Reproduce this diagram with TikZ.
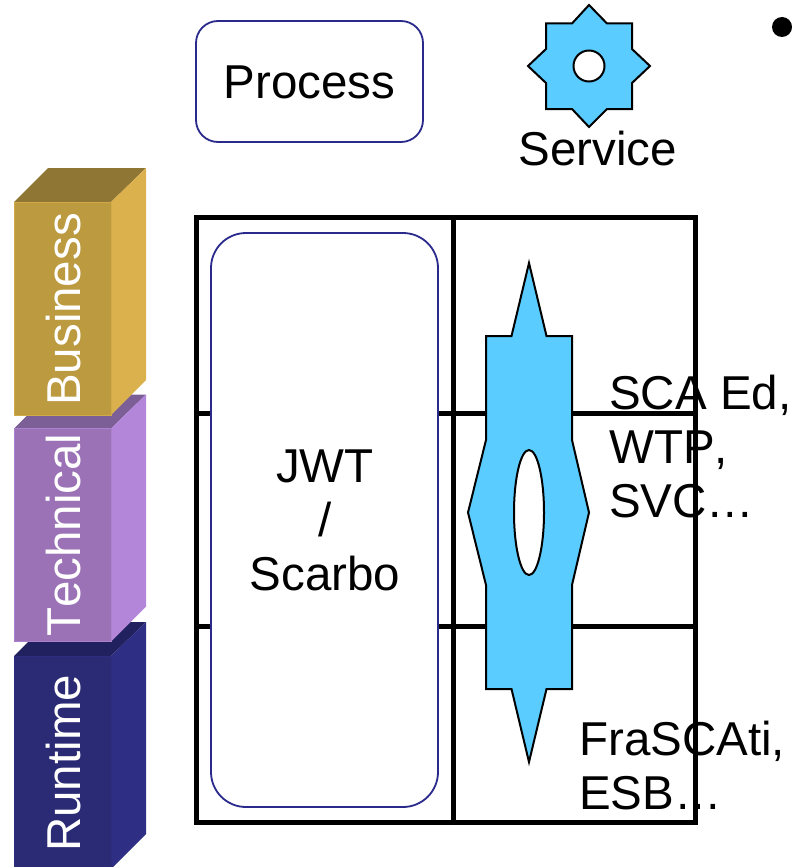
\documentclass[tikz,border=0pt]{standalone}
\usepackage{fontspec}
\setmainfont[Kerning=Off]{Liberation Sans}
\definecolor{sky}{HTML}{5ACCFF}
\definecolor{edgeblue}{HTML}{2A2A8C}
\definecolor{busF}{HTML}{BC9A40}\definecolor{busS}{HTML}{DAB14C}\definecolor{busT}{HTML}{8F7635}
\definecolor{tecF}{HTML}{9A72B5}\definecolor{tecS}{HTML}{B386DA}\definecolor{tecT}{HTML}{7C5F96}
\definecolor{runF}{HTML}{2A2A75}\definecolor{runS}{HTML}{2E2E85}\definecolor{runT}{HTML}{212160}
\tikzset{
  big/.style={font=\fontsize{47.5}{54.5}\selectfont, inner sep=0pt, text=black},
  bartext/.style={big, text=white, rotate=90, anchor=base west},
  gridline/.style={line width=5pt, black, line cap=rect},
  roundbox/.style={draw=edgeblue, fill=white, line width=1.8pt},
  skyshape/.style={draw=black, fill=sky, line width=2pt, line join=miter},
  hole/.style={draw=black, fill=white, line width=2pt},
}
\newcommand{\levelblock}[4]{% top y of front, front, side, top colours
  \fill[#4] (14,#1) -- (48,#1-34) -- (146,#1-34) -- (111,#1) -- cycle;
  \fill[#3] (111,#1) -- (146,#1-34) -- (146,#1+178) -- (111,#1+213) -- cycle;
  \fill[#2, draw=#3!70!#2, line width=1pt] (14,#1) rectangle (111,#1+213);
}
\begin{document}
\begin{tikzpicture}[x=1pt,y=-1pt]
\useasboundingbox (0,0) rectangle (792,867);
\clip (0,0) rectangle (792,867);
% level blocks
\levelblock{656}{runF}{runS}{runT}
\levelblock{428.5}{tecF}{tecS}{tecT}
\levelblock{202}{busF}{busS}{busT}
\node[bartext] (business) at (80,406) {Business};
\node[bartext] (technical) at (80,637) {Technical};
\node[bartext] (runtime) at (80,852) {Runtime};
% legend
\node[roundbox, draw, rounded corners=22pt, minimum width=227pt, minimum height=121pt, inner sep=0pt] (process) at (309.5,81.5) {};
\node[big, anchor=base] (processlabel) at (309.5,98) {Process};
\draw[skyshape] (589,5) -- (607,23.5) -- (632,23.5) -- (632,49) -- (650,66) -- (632,83) -- (632,109) -- (607,109) -- (589,127) -- (572,109) -- (546,109) -- (546,83) -- (528,66) -- (546,49) -- (546,23.5) -- (572,23.5) -- cycle;
\draw[hole] (589,66) circle (15.5);
\node[big, anchor=base west] (service) at (518.5,165) {Service};
\fill (782,27) circle (10);
% grid
\draw[gridline] (196,217) rectangle (695,822);
\draw[gridline] (453,217) -- (453,822);
\draw[gridline] (196,413) -- (695,413);
\draw[gridline] (196,626) -- (695,626);
% process column
\node[roundbox, draw, rounded corners=35pt, minimum width=227pt, minimum height=574pt, inner sep=0pt] (jwtbox) at (324.5,520) {};
\node[big, anchor=base] (jwt1) at (325,482) {JWT};
\node[big, anchor=base] (jwt2) at (325,536) {/};
\node[big, anchor=base] (jwt3) at (325,590) {Scarbo};
% service shape
\draw[skyshape] (529,263) -- (546.5,336) -- (572,336) -- (572,440) -- (589,512.5) -- (572,585) -- (572,689) -- (546.5,689) -- (529,762) -- (511.5,689) -- (486,689) -- (486,585) -- (468,512.5) -- (486,440) -- (486,336) -- (511.5,336) -- cycle;
\draw[hole] (529,512.5) ellipse (15 and 62.5);
% tool labels
\node[big, anchor=base west] (sca1) at (609,409) {SCA Ed,};
\node[big, anchor=base west] (sca2) at (609,463) {WTP,};
\node[big, anchor=base west] (sca3) at (609,517) {SVC…};
\node[big, anchor=base west] (fra1) at (579,755) {FraSCAti,};
\node[big, anchor=base west] (fra2) at (579,809) {ESB…};
\end{tikzpicture}
\end{document}
